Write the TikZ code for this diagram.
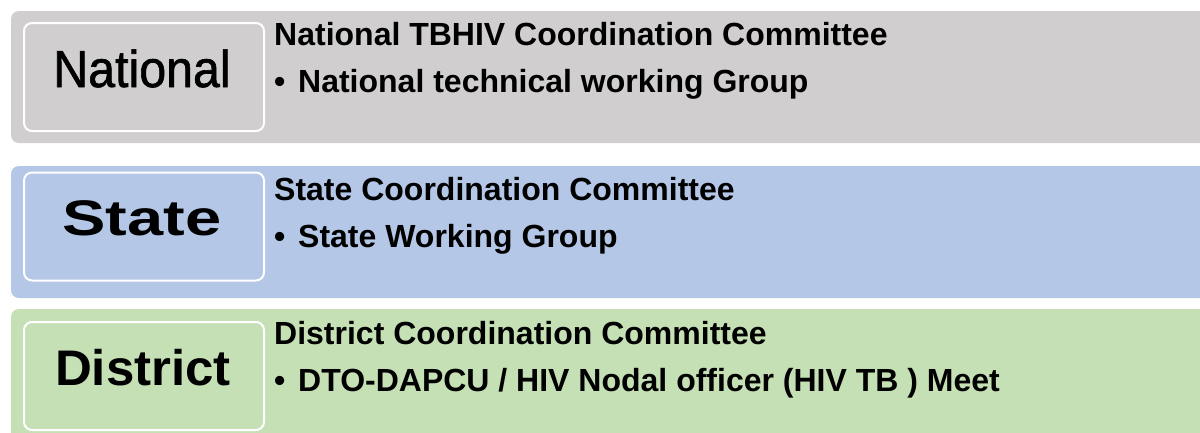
\documentclass[tikz,border=0pt]{standalone}
\usepackage{graphicx}
\usepackage{fontspec}
\setmainfont{Liberation Sans}
\newfontfamily\semibold[FakeBold=1.2]{Liberation Sans}
\definecolor{natgray}{HTML}{D0CECE}
\definecolor{stateblue}{HTML}{B4C7E7}
\definecolor{distgreen}{HTML}{C5E0B4}

\begin{document}
\begin{tikzpicture}
[
x=1pt, y=-1pt,
band/.style={rounded corners=8pt},
levelbox/.style={draw=white, line width=2pt, rounded corners=8pt, minimum width=240pt, minimum height=108pt, inner sep=0pt},
biglabel/.style={anchor=base, inner sep=0pt},
heading/.style={anchor=base west, inner sep=0pt, font=\fontsize{32}{38}\selectfont\bfseries},
item/.style={anchor=base west, inner sep=0pt, font=\fontsize{32}{38}\selectfont\bfseries}
]
\clip (0,0) rectangle (1200,432);

% bands
\fill[natgray, band] (11,11) rectangle (1230,143);
\fill[stateblue, band] (11,166) rectangle (1230,298);
\fill[distgreen, band] (11,309) rectangle (1230,470);

% national
\node[levelbox, fill=natgray] (natbox) at (144,77) {};
\node[biglabel, font=\fontsize{52}{60}\semibold] (natlabel) at (142,87) {\scalebox{0.93}[1]{National}};
\node[heading] (nathead) at (274,45.7) {National TBHIV Coordination Committee};
\node[item] (natitem) at (274,92) {\makebox[24pt][l]{\textbullet}National technical working Group};

% state
\node[levelbox, fill=stateblue] (statebox) at (144,226.5) {};
\node[biglabel, font=\fontsize{50}{56}\selectfont\bfseries] (statelabel) at (142,235.5) {\scalebox{1.3}[1]{State}};
\node[heading] (statehead) at (274,200.7) {State Coordination Committee};
\node[item] (stateitem) at (274,247) {\makebox[24pt][l]{\textbullet}State Working Group};

% district
\node[levelbox, fill=distgreen] (distbox) at (144,376) {};
\node[biglabel, font=\fontsize{50}{58}\selectfont\bfseries] (distlabel) at (143,385) {\scalebox{1.02}[1]{District}};
\node[heading] (disthead) at (274,344) {District Coordination Committee};
\node[item] (distitem) at (274,391) {\makebox[24pt][l]{\textbullet}DTO-DAPCU / HIV Nodal officer (HIV TB ) Meet};
\end{tikzpicture}
\end{document}
